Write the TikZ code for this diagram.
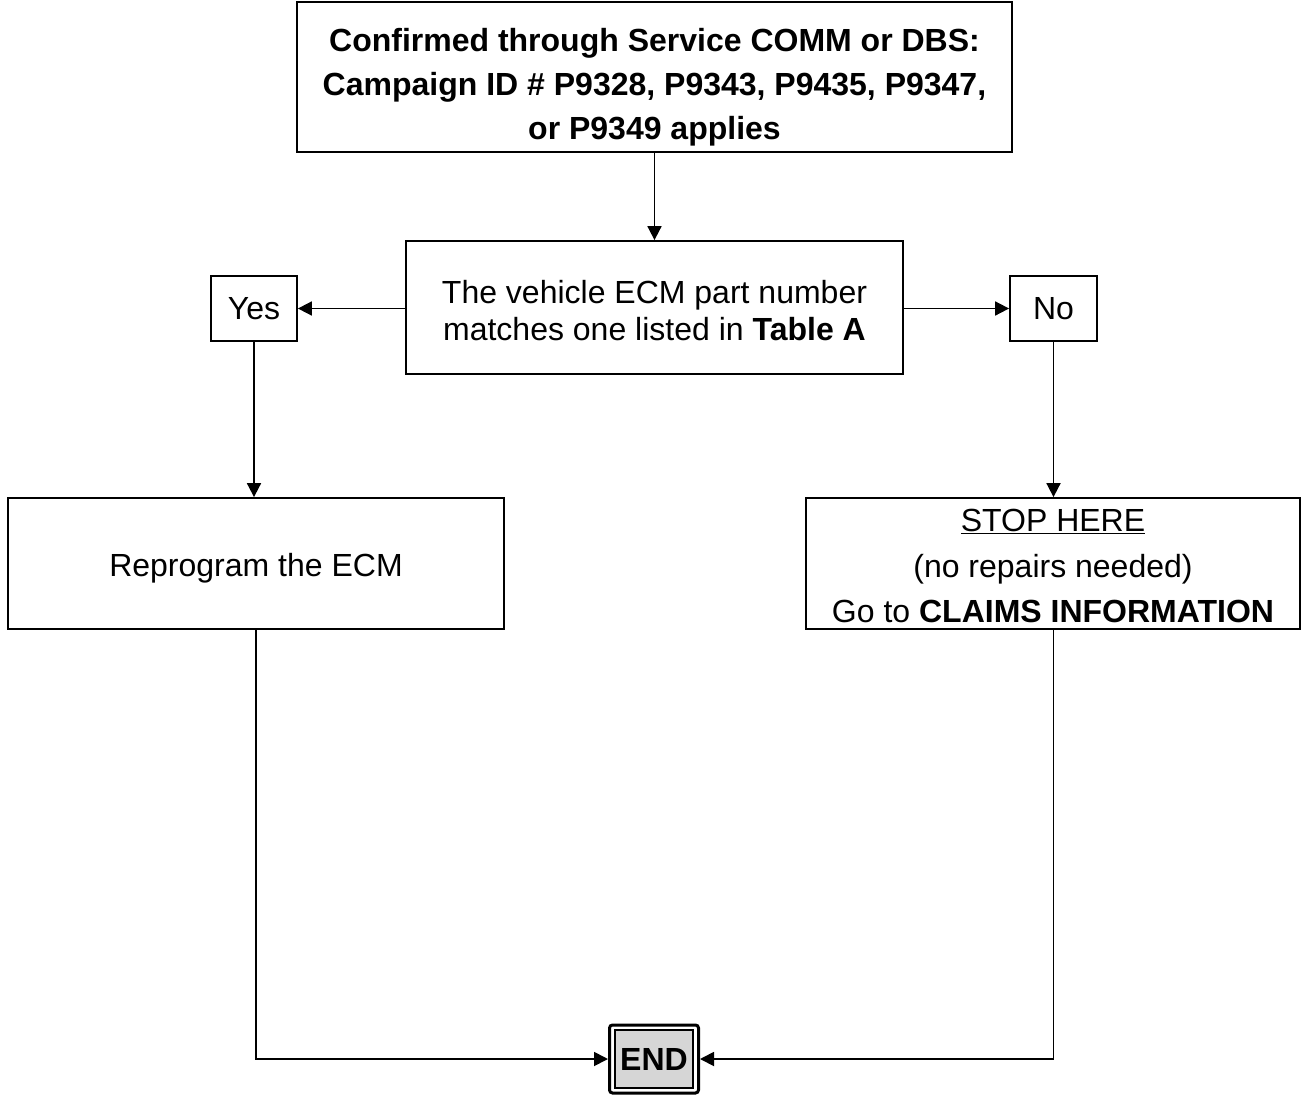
\documentclass[tikz,border=0pt]{standalone}
\usepackage{fontspec}
\setmainfont{Liberation Sans}
\usetikzlibrary{arrows.meta}
\begin{document}
\begin{tikzpicture}[x=1pt,y=-1pt,
  box/.style={draw=black,line width=1.8pt,inner sep=0pt,align=center,fill=white},
  txt/.style={inner sep=0pt,align=center},
  conn/.style={line width=1.8pt,-{Triangle[length=14pt,width=14pt]}}]
\useasboundingbox (0,0) rectangle (1302,1095);
\node[box,minimum width=715pt,minimum height=150pt] (top) at (654.5,77) {};
\node[txt,font=\fontsize{32}{44}\selectfont\bfseries] (toptext) at (654.5,87)
  {Confirmed through Service COMM or DBS:\\Campaign ID \# P9328, P9343, P9435, P9347,\\or P9349 applies};
\node[box,minimum width=497pt,minimum height=133pt] (q) at (654.5,307.5) {};
\node[txt,font=\fontsize{32}{37}\selectfont] (qtext) at (654.5,311)
  {The vehicle ECM part number\\matches one listed in \textbf{Table A}};
\node[box,minimum width=86pt,minimum height=65pt,font=\fontsize{32}{37}\selectfont] (yes) at (254,308.5) {Yes};
\node[box,minimum width=87pt,minimum height=65pt,font=\fontsize{32}{37}\selectfont] (no) at (1053.5,308.5) {No};
\node[box,minimum width=496pt,minimum height=131pt] (rep) at (256,563.5) {};
\node[txt,font=\fontsize{32}{37}\selectfont] (reptext) at (256,568) {Reprogram the ECM};
\node[box,minimum width=494pt,minimum height=131pt] (stop) at (1053,563.5) {};
\node[txt,font=\fontsize{32}{45.5}\selectfont] (stoptext) at (1053,566)
  {\underline{STOP HERE}\\(no repairs needed)\\Go to \textbf{CLAIMS INFORMATION}};
\node[draw=black,line width=3pt,rounded corners=3pt,fill=white,minimum width=89pt,minimum height=68pt,inner sep=0pt] (end) at (654,1059) {};
\node[draw=black,line width=1.6pt,fill=black!16,minimum width=78pt,minimum height=58pt,inner sep=0pt,font=\fontsize{32}{37}\selectfont\bfseries] (endin) at (654,1059) {END};
\draw[conn] (top.south) -- (q.north);
\draw[conn] (q.west |- yes.east) -- (yes.east);
\draw[conn] (q.east |- no.west) -- (no.west);
\draw[conn] (yes.south) -- (yes.south |- rep.north);
\draw[conn] (no.south) -- (no.south |- stop.north);
\draw[conn] (rep.south) |- (end.west);
\draw[conn] (stop.south -| no.south) |- (end.east);
\end{tikzpicture}
\end{document}
